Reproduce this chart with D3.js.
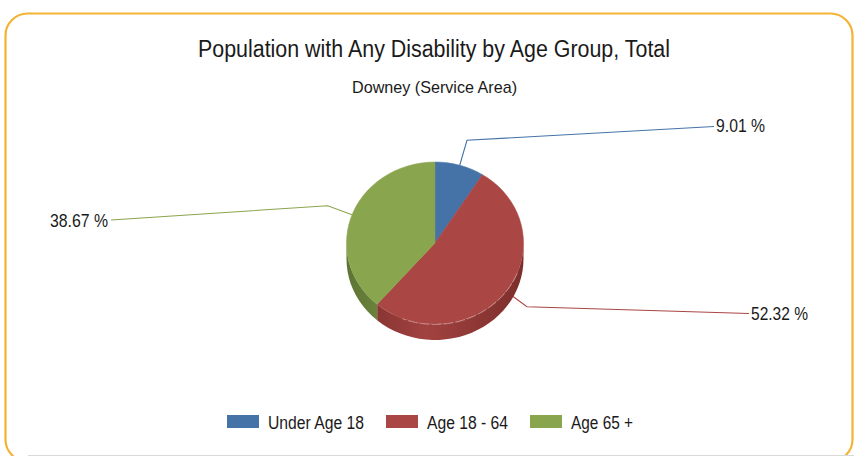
<!DOCTYPE html>
<html>
<head>
<meta charset="utf-8">
<script src="https://cdn.jsdelivr.net/npm/d3@7/dist/d3.min.js"></script>
<style>
  html, body { margin: 0; padding: 0; background: #fff; }
  svg { display: block; font-family: "Liberation Sans", Arial, sans-serif; }
</style>
</head>
<body>
<svg id="chart" width="854" height="456"></svg>
<script>
// ---- data ----
const categories = ["Under Age 18", "Age 18 - 64", "Age 65 +"];
const values = [9.01, 52.32, 38.67];
const valueLabels = ["9.01 %", "52.32 %", "38.67 %"];
const colors = ["#4572A7", "#AA4643", "#89A54E"];
const sideColors = ["#2f5480", "#8a3330", "#67803a"];
const titleText = "Population with Any Disability by Age Group, Total";
const subtitleText = "Downey (Service Area)";

// ---- layout ----
const W = 854, H = 456;
const svg = d3.select("#chart");
const cx = 435, cy = 243, rx = 88.5, ry = 81, depth = 16;

// frame
svg.append("rect")
  .attr("x", 5.5).attr("y", 13.5).attr("width", 847).attr("height", 448)
  .attr("rx", 22).attr("ry", 22)
  .attr("fill", "#fff").attr("stroke", "#F4B335").attr("stroke-width", 2.2);
svg.append("line")
  .attr("x1", 28).attr("x2", W).attr("y1", 455.5).attr("y2", 455.5)
  .attr("stroke", "#d9d9d9").attr("stroke-width", 1.2);

// titles
svg.append("text").text(titleText)
  .attr("x", 434).attr("y", 56.5).attr("text-anchor", "middle")
  .attr("font-size", 23).attr("fill", "#1a1a1a")
  .attr("textLength", 472).attr("lengthAdjust", "spacingAndGlyphs");
svg.append("text").text(subtitleText)
  .attr("x", 434.5).attr("y", 93).attr("text-anchor", "middle")
  .attr("font-size", 17).attr("fill", "#1a1a1a")
  .attr("textLength", 165).attr("lengthAdjust", "spacingAndGlyphs");

// pie layout
const color = d3.scaleOrdinal().domain(categories).range(colors);
const sideColor = d3.scaleOrdinal().domain(categories).range(sideColors);
const pie = d3.pie().sort(null).value(d => d.value);
const arcs = pie(categories.map((c, i) => ({ cat: c, value: values[i], label: valueLabels[i] })));

const px = a => cx + rx * Math.sin(a);
const py = a => cy - ry * Math.cos(a);
const N = 80;
function arcPoints(a0, a1, dy) {
  const pts = [];
  const n = Math.max(2, Math.ceil(N * (a1 - a0) / (2 * Math.PI)));
  for (let k = 0; k <= n; k++) {
    const a = a0 + (a1 - a0) * k / n;
    pts.push([px(a), py(a) + dy]);
  }
  return pts;
}
const lineGen = d3.line();

// gradients for sides
const defs = svg.append("defs");
categories.forEach((c, i) => {
  const g = defs.append("linearGradient").attr("id", "side" + i)
    .attr("gradientUnits", "userSpaceOnUse")
    .attr("x1", cx - rx).attr("x2", cx + rx).attr("y1", 0).attr("y2", 0);
  const base = d3.color(sideColor(c));
  g.append("stop").attr("offset", "0%").attr("stop-color", base.darker(0.3));
  g.append("stop").attr("offset", "45%").attr("stop-color", d3.color(color(c)).darker(0.15));
  g.append("stop").attr("offset", "100%").attr("stop-color", base.darker(0.3));
});

// leader lines (drawn under pie)
const labelLayout = [
  { end: [714, 126.5], tx: 716, ty: 132, anchor: "start", w: 49 },
  { end: [749, 313.5], tx: 751, ty: 319.5, anchor: "start", w: 57 },
  { end: [111, 220], tx: 108, ty: 226.5, anchor: "end", w: 58 }
];
const gLines = svg.append("g");
arcs.forEach((d, i) => {
  const mid = (d.startAngle + d.endAngle) / 2;
  const ax = px(mid), ay = py(mid);
  const ex = ax + 26 * Math.sin(mid), ey = ay - 26 * Math.cos(mid);
  const L = labelLayout[i];
  gLines.append("path")
    .attr("d", lineGen([[ax, ay], [ex, ey], L.end]))
    .attr("fill", "none").attr("stroke", color(d.data.cat)).attr("stroke-width", 1.1);
});

// sides (front half only: angles between PI/2 and 3PI/2)
const gPie = svg.append("g");
arcs.forEach((d, i) => {
  const a0 = Math.max(d.startAngle, Math.PI / 2);
  const a1 = Math.min(d.endAngle, 3 * Math.PI / 2);
  if (a1 <= a0) return;
  const top = arcPoints(a0, a1, 0);
  const bot = arcPoints(a0, a1, depth).reverse();
  gPie.append("path")
    .attr("d", lineGen(top.concat(bot)) + "Z")
    .attr("fill", "url(#side" + i + ")");
});

// top faces
arcs.forEach((d, i) => {
  const pts = [[cx, cy]].concat(arcPoints(d.startAngle, d.endAngle, 0));
  gPie.append("path")
    .attr("d", lineGen(pts) + "Z")
    .attr("fill", color(d.data.cat))
    .attr("stroke", color(d.data.cat)).attr("stroke-width", 0.5);
});
// subtle highlight along front rim
gPie.append("path")
  .attr("d", lineGen(arcPoints(Math.PI * 0.62, Math.PI * 1.12, 0.5)))
  .attr("fill", "none").attr("stroke", "rgba(255,255,255,0.35)")
  .attr("stroke-width", 1).attr("stroke-dasharray", "10,2");

// value labels
arcs.forEach((d, i) => {
  const L = labelLayout[i];
  svg.append("text").text(d.data.label)
    .attr("x", L.tx).attr("y", L.ty)
    .attr("text-anchor", L.anchor)
    .attr("font-size", 19).attr("fill", "#1a1a1a")
    .attr("textLength", L.w).attr("lengthAdjust", "spacingAndGlyphs");
});

// legend
const legendWidths = [96, 81, 62];
const gLeg = svg.append("g");
let lx = 227;
categories.forEach((c, i) => {
  gLeg.append("rect").attr("x", lx).attr("y", 415).attr("width", 32).attr("height", 13)
    .attr("fill", color(c));
  gLeg.append("text").text(c)
    .attr("x", lx + 41).attr("y", 428.5)
    .attr("font-size", 18).attr("fill", "#1a1a1a")
    .attr("textLength", legendWidths[i]).attr("lengthAdjust", "spacingAndGlyphs");
  lx += 41 + legendWidths[i] + 22;
});
</script>
</body>
</html>
